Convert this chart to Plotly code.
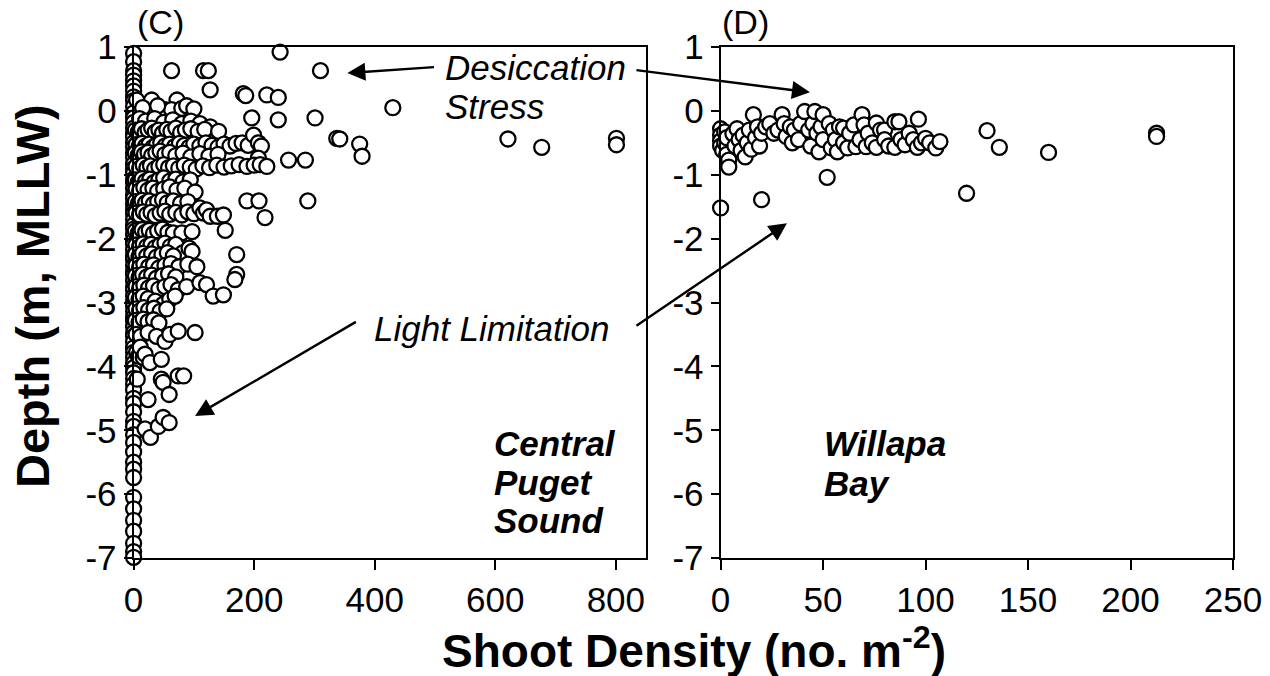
import plotly.graph_objects as go

# ---------------- Data: (shoot density, depth) ----------------
# (C) Central Puget Sound
cps_zero_column = [
    (0, 0.90), (0, 0.77), (0, 0.63), (0, 0.56), (0, 0.47), (0, 0.39), (0, 0.31), (0, 0.22), (0, 0.16),
    (0, 0.07), (0, -0.03), (0, -0.11), (0, -0.18), (0, -0.27), (0, -0.35), (0, -0.41), (0, -0.50),
    (0, -0.57), (0, -0.66), (0, -0.73), (0, -0.83), (0, -0.90), (0, -0.97), (0, -1.07), (0, -1.13),
    (0, -1.22), (0, -1.31), (0, -1.37), (0, -1.46), (0, -1.55), (0, -1.61), (0, -1.70), (0, -1.79),
    (0, -1.85), (0, -1.94), (0, -2.03), (0, -2.09), (0, -2.18), (0, -2.27), (0, -2.33), (0, -2.42),
    (0, -2.51), (0, -2.57), (0, -2.66), (0, -2.75), (0, -2.81), (0, -2.90), (0, -2.99), (0, -3.05),
    (0, -3.14), (0, -3.23), (0, -3.29), (0, -3.38), (0, -3.47), (0, -3.53), (0, -3.62), (0, -3.71),
    (0, -3.78), (0, -3.86), (0, -3.95), (0, -4.02), (0, -4.10), (0, -4.19), (0, -4.28), (0, -4.37),
    (0, -4.50), (0, -4.58), (0, -4.71), (0, -4.86), (0, -4.94), (0, -5.07), (0, -5.19), (0, -5.34),
    (0, -5.50), (0, -5.61), (0, -5.74), (0, -6.05), (0, -6.23), (0, -6.41), (0, -6.58), (0, -6.77),
    (0, -6.90), (0, -6.99),
]
cps_shallow = [
    (5, 0.17), (63, 0.63), (116, 0.63), (124, 0.63), (127, 0.33), (182, 0.27), (186, 0.24), (221, 0.25),
    (240, 0.21), (243, 0.92), (310, 0.63), (430, 0.05), (30, 0.17), (72, 0.17), (52, 0.02), (63, 0.02),
    (80, 0.04), (88, 0.08), (100, 0.03), (40, 0.08), (15, 0.05),
    (10, -0.12), (20, -0.16), (35, -0.12), (50, -0.18), (65, -0.14), (80, -0.20), (95, -0.16),
    (110, -0.20), (127, -0.25), (196, -0.11), (240, -0.14), (301, -0.11),
    (337, -0.43), (342, -0.44), (375, -0.52), (379, -0.71), (257, -0.77), (285, -0.77),
    (621, -0.44), (677, -0.57), (801, -0.43), (801, -0.53),
]
cps_upper_rows = [
    (3, -0.30), (8, -0.33), (13, -0.28), (19, -0.34), (24, -0.30), (30, -0.27), (36, -0.33), (42, -0.30),
    (48, -0.35), (55, -0.29), (62, -0.32), (70, -0.27), (78, -0.34), (86, -0.30), (95, -0.28),
    (107, -0.32), (118, -0.29), (141, -0.32),
    (4, -0.53), (9, -0.56), (14, -0.51), (20, -0.55), (26, -0.52), (32, -0.57), (38, -0.53), (45, -0.50),
    (52, -0.55), (60, -0.52), (68, -0.56), (76, -0.51), (84, -0.54), (92, -0.57), (100, -0.52),
    (110, -0.55), (120, -0.50), (130, -0.54), (140, -0.57), (150, -0.52), (160, -0.55), (170, -0.51),
    (180, -0.50), (190, -0.54), (199, -0.38), (207, -0.50), (212, -0.55),
    (3, -0.66), (8, -0.69), (13, -0.64), (18, -0.68), (24, -0.65), (30, -0.70), (37, -0.66),
    (44, -0.63), (52, -0.68), (60, -0.65), (70, -0.70), (82, -0.66), (95, -0.72), (110, -0.67),
    (125, -0.71), (140, -0.68), (207, -0.74),
    (4, -0.87), (10, -0.90), (16, -0.85), (22, -0.89), (28, -0.86), (35, -0.91), (42, -0.87),
    (50, -0.84), (58, -0.89), (66, -0.86), (75, -0.90), (84, -0.85), (94, -0.88), (104, -0.91),
    (115, -0.86), (126, -0.89), (138, -0.85), (150, -0.88), (162, -0.86), (175, -0.84),
    (188, -0.87), (200, -0.85), (210, -0.84), (221, -0.87),
]
cps_middle_rows = [
    (3, -1.08), (8, -1.11), (14, -1.06), (20, -1.10), (27, -1.07), (34, -1.12), (42, -1.08),
    (50, -1.05), (60, -1.10), (70, -1.07), (82, -1.11), (94, -1.08),
    (4, -1.22), (10, -1.25), (17, -1.20), (24, -1.24), (32, -1.21), (40, -1.26), (50, -1.22),
    (60, -1.19), (72, -1.24), (85, -1.21), (102, -1.27),
    (3, -1.42), (8, -1.45), (14, -1.40), (20, -1.44), (26, -1.41), (33, -1.46), (40, -1.42),
    (48, -1.39), (56, -1.44), (66, -1.41), (78, -1.45), (90, -1.42), (188, -1.41), (208, -1.41),
    (289, -1.41),
    (4, -1.60), (10, -1.63), (16, -1.58), (22, -1.62), (29, -1.59), (36, -1.64), (44, -1.60),
    (52, -1.57), (60, -1.62), (70, -1.59), (80, -1.63), (90, -1.58), (100, -1.61), (110, -1.52),
    (116, -1.60), (121, -1.55), (127, -1.65), (139, -1.65), (149, -1.63), (218, -1.67),
    (3, -1.88), (8, -1.91), (14, -1.86), (20, -1.90), (26, -1.87), (33, -1.92), (40, -1.88),
    (48, -1.85), (57, -1.90), (66, -1.91), (80, -1.91), (97, -1.89), (152, -1.87),
    (4, -2.10), (10, -2.13), (16, -2.08), (22, -2.12), (29, -2.09), (36, -2.14), (44, -2.10),
    (52, -2.07), (61, -2.12), (70, -2.09), (82, -2.22), (92, -2.15),
]
cps_deep_rows = [
    (3, -2.25), (9, -2.28), (15, -2.23), (22, -2.27), (30, -2.24), (38, -2.29), (47, -2.25),
    (56, -2.22), (66, -2.27), (97, -2.20), (171, -2.25),
    (4, -2.42), (10, -2.45), (17, -2.40), (25, -2.44), (33, -2.41), (42, -2.46), (52, -2.42),
    (62, -2.39), (75, -2.44), (90, -2.40), (105, -2.44),
    (3, -2.58), (9, -2.61), (15, -2.56), (22, -2.60), (30, -2.57), (38, -2.62), (48, -2.58),
    (58, -2.55), (70, -2.60), (171, -2.56),
    (4, -2.75), (10, -2.78), (17, -2.73), (25, -2.77), (33, -2.74), (42, -2.79), (52, -2.75),
    (62, -2.72), (74, -2.80), (88, -2.75), (110, -2.69), (121, -2.72), (168, -2.64),
    (3, -2.92), (9, -2.95), (16, -2.90), (24, -2.94), (36, -2.98), (49, -3.03), (60, -2.95),
    (69, -2.90), (132, -2.90), (149, -2.88),
    (4, -3.10), (10, -3.13), (17, -3.08), (25, -3.12), (34, -3.09), (44, -3.14), (55, -3.10),
    (3, -3.28), (9, -3.31), (16, -3.26), (24, -3.30), (33, -3.27), (42, -3.32),
    (4, -3.50), (12, -3.53), (24, -3.47), (38, -3.53), (52, -3.61), (60, -3.50), (74, -3.45),
    (102, -3.47),
    (5, -3.78), (8, -3.84), (11, -3.70), (16, -3.86), (19, -3.81), (27, -3.94), (46, -3.89),
    (6, -4.20), (46, -4.20), (49, -4.25), (74, -4.15), (83, -4.15),
    (24, -4.52), (59, -4.44),
    (19, -4.98), (28, -5.11), (41, -4.94), (49, -4.80), (59, -4.88),
]

# (D) Willapa Bay
wb_points = [
    (0, -0.28), (0, -0.38), (0, -0.47), (0, -0.55), (1, -0.62), (2, -0.33), (2, -0.50), (3, -0.42),
    (3, -0.68), (4, -0.77), (4, -0.88), (6, -0.36), (7, -0.55), (8, -0.28), (9, -0.45), (10, -0.62),
    (11, -0.38), (12, -0.72), (13, -0.50), (14, -0.30), (15, -0.60), (16, -0.06), (17, -0.42),
    (18, -0.25), (19, -0.55), (20, -0.35), (0, -1.52), (20, -1.39),
    (22, -0.25), (24, -0.20), (26, -0.35), (28, -0.30), (30, -0.06), (31, -0.20), (32, -0.40),
    (34, -0.25), (35, -0.50), (36, -0.30), (38, -0.45), (39, -0.20),
    (41, -0.01), (43, -0.30), (44, -0.55), (45, -0.20), (46, -0.01), (47, -0.35), (48, -0.64),
    (49, -0.25), (50, -0.06), (50, -0.45), (52, -1.04), (53, -0.20), (54, -0.58), (55, -0.30),
    (56, -0.45), (57, -0.64), (58, -0.25), (60, -0.27), (60, -0.50),
    (62, -0.58), (63, -0.35), (65, -0.22), (66, -0.56), (68, -0.45), (69, -0.06), (70, -0.22),
    (71, -0.56), (72, -0.35), (74, -0.50), (76, -0.19), (76, -0.57), (78, -0.30), (80, -0.30),
    (80, -0.45),
    (82, -0.55), (85, -0.17), (85, -0.57), (87, -0.17), (88, -0.45), (90, -0.53), (92, -0.35),
    (94, -0.45), (96, -0.57), (96.5, -0.13), (98, -0.50), (100, -0.43), (102, -0.50), (105, -0.58),
    (107, -0.48),
    (120, -1.29), (130, -0.31), (136, -0.57), (160, -0.65), (212.7, -0.35), (212.7, -0.40),
]

left_ticks = [0, 200, 400, 600, 800]
right_ticks = [0, 50, 100, 150, 200, 250]
depth_ticks = [1, 0, -1, -2, -3, -4, -5, -6, -7]

cps_all = cps_zero_column + cps_shallow + cps_upper_rows + cps_middle_rows + cps_deep_rows
cps_x = [p[0] for p in cps_all]
cps_y = [p[1] for p in cps_all]
wb_x = [p[0] for p in wb_points]
wb_y = [p[1] for p in wb_points]

# ---------------- Figure ----------------
FONT = "Liberation Sans, Arial, sans-serif"
marker = dict(symbol="circle", size=15, color="white", line=dict(color="black", width=2.3))

fig = go.Figure()
fig.add_trace(go.Scatter(x=cps_x, y=cps_y, mode="markers", marker=marker,
                         cliponaxis=False, xaxis="x", yaxis="y", showlegend=False))
fig.add_trace(go.Scatter(x=wb_x, y=wb_y, mode="markers", marker=marker,
                         cliponaxis=False, xaxis="x2", yaxis="y2", showlegend=False))

W, H = 1270, 676
ydom = [(H - 558) / H, (H - 47) / H]
common = dict(showline=True, linewidth=2, linecolor="black", mirror=True, showgrid=False,
              zeroline=False, ticks="outside", tickwidth=2, tickcolor="black", automargin=False,
              tickfont=dict(family=FONT, size=35, color="black"))

def fmt(v):
    return str(v)

fig.update_layout(
    width=W, height=H, margin=dict(l=0, r=0, t=0, b=0, autoexpand=False),
    paper_bgcolor="white", plot_bgcolor="white",
    font=dict(family=FONT, color="black"),
    xaxis=dict(domain=[133.6 / W, 646 / W], range=[0, 850], anchor="y",
               tickvals=left_ticks, ticktext=[fmt(v) for v in left_ticks], ticklen=10, **common),
    yaxis=dict(domain=ydom, range=[-7, 1], anchor="x",
               tickvals=depth_ticks, ticktext=[fmt(v) for v in depth_ticks], ticklen=8, **common),
    xaxis2=dict(domain=[720.6 / W, 1233 / W], range=[0, 250], anchor="y2",
                tickvals=right_ticks, ticktext=[fmt(v) for v in right_ticks], ticklen=10, **common),
    yaxis2=dict(domain=ydom, range=[-7, 1], anchor="x2",
                tickvals=depth_ticks, ticktext=[fmt(v) for v in depth_ticks], ticklen=8, **common),
)

def ptext(text, px, py, size, xanchor="center", angle=0):
    fig.add_annotation(text=text, x=px / W, y=1 - py / H, xref="paper", yref="paper",
                       xanchor=xanchor, yanchor="middle", showarrow=False, textangle=angle,
                       font=dict(family=FONT, size=size, color="black"))

ptext("(C)", 160, 22, 34)
ptext("(D)", 745, 22, 34)
ptext("<i>Desiccation</i>", 443, 68, 35, "left")
ptext("<i>Stress</i>", 443, 106, 35, "left")
ptext("<i>Light Limitation</i>", 491, 328, 35)
ptext("<b><i>Central</i></b>", 492, 443, 35, "left")
ptext("<b><i>Puget</i></b>", 492, 482, 35, "left")
ptext("<b><i>Sound</i></b>", 492, 520, 35, "left")
ptext("<b><i>Willapa</i></b>", 822, 443, 35, "left")
ptext("<b><i>Bay</i></b>", 822, 483, 35, "left")
ptext("<b>Shoot Density (no. m<sup>-2</sup>)</b>", 694, 648, 46)
ptext("<b>Depth (m, MLLW)</b>", 32, 296, 47, angle=-90)

def arrow(xref, yref, head, tail):
    fig.add_annotation(x=head[0], y=head[1], ax=tail[0], ay=tail[1], xref=xref, yref=yref,
                       axref=xref, ayref=yref, text="", showarrow=True, arrowhead=2,
                       arrowsize=1.5, arrowwidth=2.4, arrowcolor="black", standoff=0)

arrow("x", "y", (354.6, 0.593), (500.8, 0.687))
arrow("x", "y", (102, -4.777), (371.2, -3.29))
arrow("x2", "y2", (43.6, 0.291), (-41.8, 0.64))
arrow("x2", "y2", (32.4, -1.76), (-41.8, -3.38))

fig.write_html("out.html")
